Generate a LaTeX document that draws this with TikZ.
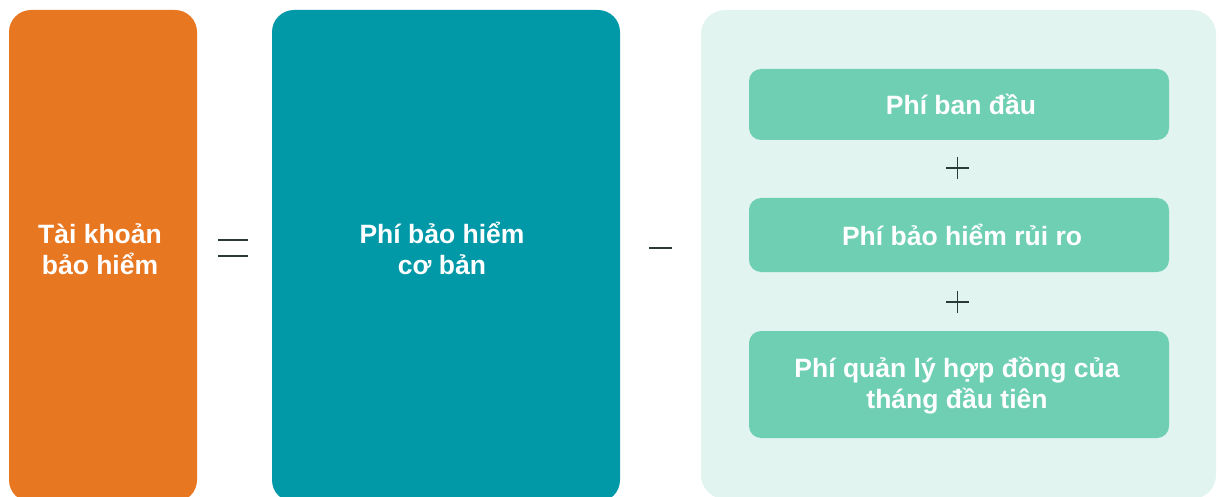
\documentclass[tikz,border=0pt]{standalone}
\usepackage{fontspec}
\setmainfont{Liberation Sans}
\definecolor{accorange}{HTML}{E87722}
\definecolor{accteal}{HTML}{0198A8}
\definecolor{panelmint}{HTML}{E1F4EF}
\definecolor{feegreen}{HTML}{6ECFB3}
\definecolor{opdark}{HTML}{2B3A35}
\tikzset{
  x=1pt, y=-1pt,
  bigbox/.style={rounded corners=22pt},
  feebox/.style={fill=feegreen, rounded corners=12pt},
  label/.style={text=white, font=\bfseries\fontsize{26.5}{31}\selectfont, align=center},
  opline/.style={draw=opdark, line width=1.5pt}
}
\begin{document}
\begin{tikzpicture}
\useasboundingbox (0,0) rectangle (1221,497);
% main blocks
\fill[accorange, bigbox] (9,10) rectangle (197,502);
\fill[accteal, bigbox] (272,10) rectangle (620,502);
\fill[panelmint, rounded corners=24pt] (701,10) rectangle (1216,499);
% fee boxes
\fill[feebox] (749,69) rectangle (1169,140);
\fill[feebox] (749,198) rectangle (1169,272);
\fill[feebox] (749,331) rectangle (1169,438);
% labels
\node[label] (acct) at (100,249) {Tài khoản\\bảo hiểm};
\node[label] (base) at (442,248) {Phí bảo hiểm\\cơ bản};
\node[label] (fee1) at (961,104) {Phí ban đầu};
\node[label] (fee2) at (962,235) {Phí bảo hiểm rủi ro};
\node[label] (fee3) at (957,386) {Phí quản lý hợp đồng của\\tháng đầu tiên};
% operators
\coordinate (eq) at (233,248);
\draw[opline] ([xshift=-15pt,yshift=-8pt]eq) -- ([xshift=15pt,yshift=-8pt]eq);
\draw[opline] ([xshift=-15pt,yshift=8pt]eq) -- ([xshift=15pt,yshift=8pt]eq);
\coordinate (minus) at (660.5,248);
\draw[opline] ([xshift=-11.5pt]minus) -- ([xshift=11.5pt]minus);
\coordinate (plusA) at (957.5,168);
\coordinate (plusB) at (957.5,302);
\foreach \p in {plusA,plusB}{
  \draw[opline] ([xshift=-11.5pt]\p) -- ([xshift=11.5pt]\p);
  \draw[opline] ([yshift=-11pt]\p) -- ([yshift=11pt]\p);
}
\end{tikzpicture}
\end{document}
